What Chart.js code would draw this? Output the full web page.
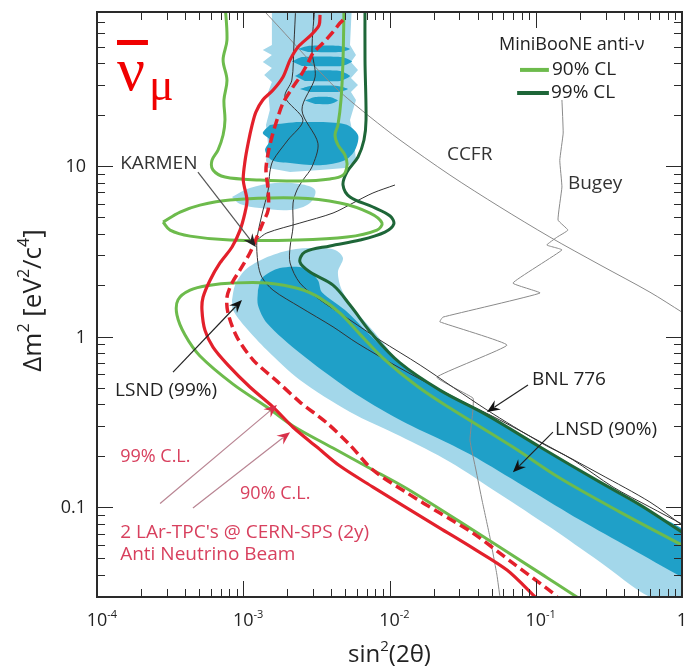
<!DOCTYPE html>
<html>
<head>
<meta charset="utf-8">
<script src="https://cdn.jsdelivr.net/npm/chart.js@4.4.1/dist/chart.umd.min.js"></script>
<style>
  html, body { margin: 0; padding: 0; background: #fff; }
  canvas { display: block; }
</style>
</head>
<body>
<canvas id="chart" width="688" height="671"></canvas>
<script>
// --- axis ranges and tick labels ---
const xRange = [1e-4, 1];
const yRange = [0.0297, 80];
const xDecades = [1e-4, 1e-3, 1e-2, 1e-1, 1];
const xDecadeLabels = [['10', '-4'], ['10', '-3'], ['10', '-2'], ['10', '-1'], ['1', '']];
const yDecades = [10, 1, 0.1];
const yDecadeLabels = ['10', '1', '0.1'];

// --- LSND allowed regions: [sin2(2theta), dm2] ---
const lsndLightBand = [[8.38e-4,1.64],[8.78e-4,2.0],[1.03e-3,2.46],[1.41e-3,2.89],[2.09e-3,3.22],[3.1e-3,3.3],[4.24e-3,3.22],[4.81e-3,2.89],[4.44e-3,2.39],[4.73e-3,1.87],[5.81e-3,1.43],[7.96e-3,1.05],[1.18e-2,0.708],[2.21e-2,0.492],[4.64e-2,0.351],[0.107,0.228],[0.275,0.142],[0.516,0.104],[1.0,0.0718],[1.33,0.0623],[1.33,0.0249],[0.604,0.0297],[0.275,0.0476],[0.125,0.0763],[5.69e-2,0.119],[2.59e-2,0.184],[1.18e-2,0.261],[5.37e-3,0.361],[2.44e-3,0.556],[1.45e-3,0.833],[1.03e-3,1.14],[8.51e-4,1.43],[8.38e-4,1.64]];
const lsndLightStrip = [[1.57e-3,90],[1.57e-3,51.3],[1.36e-3,47.9],[1.57e-3,44.8],[1.36e-3,40.7],[1.57e-3,37.6],[1.39e-3,34.2],[1.57e-3,31.1],[1.48e-3,27.2],[1.52e-3,21.3],[1.43e-3,17.4],[1.48e-3,13.3],[1.43e-3,10.8],[1.48e-3,9.73],[2.09e-3,9.22],[3.35e-3,9.48],[4.96e-3,9.73],[5.9e-3,10.8],[5.72e-3,14.2],[5.37e-3,18.6],[5.9e-3,24.4],[5.45e-3,27.2],[6.09e-3,29.9],[5.45e-3,32.8],[6.09e-3,36.6],[5.45e-3,40.7],[5.9e-3,44.8],[5.37e-3,51.3],[5.54e-3,90],[1.57e-3,90]];
const lsndLightIsland = [[8.38e-4,6.58],[1.11e-3,7.43],[1.65e-3,7.95],[2.44e-3,7.84],[3.1e-3,7.23],[2.86e-3,6.07],[2.09e-3,5.52],[1.3e-3,5.67],[9.51e-4,5.99],[8.38e-4,6.58]];
const lsndDarkBand = [[1.26e-3,1.87],[1.34e-3,2.2],[1.78e-3,2.52],[2.64e-3,2.52],[3.24e-3,2.14],[3.45e-3,1.82],[4.96e-3,1.43],[7.36e-3,1.02],[1.18e-2,0.69],[2.21e-2,0.479],[4.64e-2,0.342],[0.107,0.222],[0.275,0.138],[0.516,0.101],[1.33,0.0615],[1.33,0.0349],[1.0,0.0388],[0.441,0.0575],[0.201,0.0839],[9.14e-2,0.126],[4.16e-2,0.189],[2.59e-2,0.234],[1.18e-2,0.324],[5.37e-3,0.485],[2.44e-3,0.8],[1.45e-3,1.2],[1.26e-3,1.53],[1.26e-3,1.87]];
const lsndDarkStripes = [
  [[2.37e-3,48.6],[2.77e-3,50.6],[4.59e-3,50.6],[5.37e-3,48.6],[4.59e-3,46.6],[2.77e-3,46.6]],
  [[2.15e-3,41.0],[2.52e-3,43.6],[4.73e-3,43.6],[5.54e-3,41.0],[4.73e-3,38.6],[2.52e-3,38.6]],
  [[2.26e-3,33.7],[2.64e-3,36.1],[4.59e-3,36.1],[5.37e-3,33.7],[4.59e-3,31.5],[2.64e-3,31.5]],
  [[2.44e-3,28.3],[2.86e-3,29.5],[4.44e-3,29.5],[5.2e-3,28.3],[4.44e-3,27.2],[2.86e-3,27.2]],
  [[2.64e-3,24.2],[3.1e-3,25.4],[3.92e-3,25.4],[4.44e-3,24.2],[3.92e-3,23.1],[3.1e-3,23.1]]
];
const lsndDarkBlob = [[1.52e-3,17.4],[2.44e-3,18.1],[4.96e-3,17.6],[6.09e-3,15.2],[5.81e-3,12.4],[4.96e-3,10.8],[3.35e-3,10.1],[2.09e-3,10.4],[1.57e-3,10.8],[1.41e-3,12.4],[1.52e-3,14.2],[1.36e-3,15.6],[1.52e-3,17.4]];

// --- other experiments (exclusion curves) ---
const ccfr = [[1.41e-3,80],[1.78e-3,64.5],[2.44e-3,47.9],[3.35e-3,35.6],[4.59e-3,27.2],[7.36e-3,19.4],[1.18e-2,14.2],[2.59e-2,8.85],[5.69e-2,5.75],[0.125,3.83],[0.275,2.63],[0.604,1.82],[1.0,1.39]];
const bugey = [[0.151,24.4],[0.154,15.6],[0.146,10.8],[0.151,7.53],[0.142,4.82],[0.166,4.21],[0.14,3.83],[0.119,3.44],[0.151,3.22],[6.98e-2,2.06],[0.107,1.8],[2.32e-2,1.3],[2.21e-2,1.22],[6.36e-2,0.891],[2.11e-2,0.578],[3.72e-2,0.436],[3.72e-2,0.371],[3.55e-2,0.247],[3.9e-2,0.165],[4.29e-2,0.11],[4.86e-2,0.0667],[5.43e-2,0.0399],[5.69e-2,0.0297]];
const karmen = [[2.29e-3,90],[2.22e-3,51.3],[2.15e-3,31.9],[1.93e-3,25.4],[2.56e-3,18.6],[2.02e-3,14.2],[1.6e-3,10.8],[1.52e-3,9.22],[1.48e-3,7.23],[1.34e-3,5.16],[1.24e-3,3.68],[1.26e-3,2.7],[1.34e-3,2.23],[1.6e-3,1.87],[2.44e-3,1.49],[4.11e-3,1.14],[6.0e-3,0.916],[1.18e-2,0.653],[2.59e-2,0.454],[5.69e-2,0.324],[0.125,0.225],[0.275,0.156],[0.604,0.107],[1.0,0.0784]];
const karmenBranch = [[1.24e-3,3.68],[1.45e-3,4.05],[2.44e-3,4.63],[4.11e-3,5.3],[5.63e-3,6.07],[7.71e-3,6.95],[1.09e-2,7.74]];
const bnl776 = [[3.1e-3,90],[2.95e-3,47.9],[3.1e-3,33.3],[2.52e-3,21.3],[3.24e-3,13.6],[2.95e-3,9.87],[2.56e-3,8.28],[2.33e-3,7.23],[2.19e-3,6.07],[2.19e-3,4.39],[2.09e-3,3.35],[2.09e-3,2.7],[2.44e-3,2.06],[3.35e-3,1.64],[5.37e-3,1.25],[8.61e-3,0.953],[1.62e-2,0.68],[4.64e-2,0.371],[0.107,0.24],[0.18,0.189],[0.338,0.131],[0.604,0.1],[1.0,0.0795]];

// --- MiniBooNE anti-nu contours ---
const miniboone90Top = [[7.5e-4,90],[7.74e-4,54.8],[7.28e-4,41.9],[7.74e-4,31.9],[7.38e-4,24.4],[7.5e-4,18.6],[7.28e-4,15.2],[6.72e-4,12.4],[6.11e-4,10.8],[6.21e-4,9.48],[7.5e-4,8.62],[1.3e-3,8.28],[2.44e-3,8.17],[3.92e-3,8.4],[4.81e-3,8.85],[5.12e-3,10.1],[4.96e-3,11.6],[4.44e-3,13.3],[4.24e-3,15.2],[4.44e-3,17.4],[4.66e-3,24.4],[4.81e-3,41.9],[4.89e-3,90]];
const miniboone90Lens = [[2.83e-4,4.69],[3.7e-4,5.37],[5.06e-4,5.9],[8.11e-4,6.32],[2.33e-3,6.49],[4.59e-3,6.07],[7.36e-3,5.3],[8.89e-3,4.63],[8.21e-3,4.21],[5.12e-3,3.83],[2.33e-3,3.68],[8.11e-4,3.68],[4.33e-4,3.88],[3.16e-4,4.21],[2.83e-4,4.69]];
const miniboone90Main = [[1.0,0.0599],[0.377,0.0935],[0.146,0.148],[6.98e-2,0.225],[2.59e-2,0.381],[1.54e-2,0.513],[9.02e-3,0.748],[6.29e-3,1.03],[4.59e-3,1.37],[3.35e-3,1.68],[2.44e-3,1.9],[1.45e-3,2.06],[8.51e-4,2.06],[5.93e-4,2.0],[4.33e-4,1.87],[3.58e-4,1.64],[3.52e-4,1.34],[4.0e-4,1.02],[5.06e-4,0.769],[8.51e-4,0.526],[1.45e-3,0.386],[2.19e-3,0.299],[4.11e-3,0.222],[7.71e-3,0.165],[1.32e-2,0.128],[3.72e-2,0.0733],[0.107,0.041],[0.191,0.0297],[0.217,0.0274]];
const miniboone99 = [[6.8e-3,90],[6.8e-3,41.9],[6.91e-3,18.6],[6.69e-3,14.2],[6.09e-3,11.3],[5.12e-3,9.22],[4.81e-3,7.74],[5.37e-3,6.58],[7.71e-3,5.75],[1.01e-2,5.09],[1.07e-2,4.57],[9.31e-3,4.1],[6.29e-3,3.68],[3.92e-3,3.4],[2.64e-3,3.13],[2.44e-3,2.74],[2.86e-3,2.39],[4.11e-3,2.0],[5.37e-3,1.53],[7.71e-3,1.02],[1.18e-2,0.7],[2.21e-2,0.485],[4.64e-2,0.346],[0.107,0.225],[0.275,0.14],[0.516,0.103],[1.0,0.0713]];

// --- 2 LAr-TPC sensitivity (anti-neutrino beam, 2y) ---
const lar90 = [[3.35e-3,77],[3.3e-3,67],[2.95e-3,59.4],[2.37e-3,49.9],[2.09e-3,41.9],[1.87e-3,33.3],[1.6e-3,27.9],[1.36e-3,24.4],[1.22e-3,20.7],[1.15e-3,17.4],[1.08e-3,13.6],[1.03e-3,10.8],[1.0e-3,8.28],[1.06e-3,6.32],[1.03e-3,5.37],[9.51e-4,4.21],[8.38e-4,3.35],[6.93e-4,2.7],[5.93e-4,2.14],[5.31e-4,1.7],[5.22e-4,1.43],[5.47e-4,1.09],[6.21e-4,0.867],[7.87e-4,0.68],[1.11e-3,0.506],[1.6e-3,0.386],[2.19e-3,0.294],[3.19e-3,0.225],[4.59e-3,0.174],[7.71e-3,0.131],[1.32e-2,0.0987],[2.21e-2,0.0753],[3.72e-2,0.0574],[6.36e-2,0.0427],[0.099,0.0297],[0.105,0.028]];
const lar99 = [[4.81e-3,71.8],[4.59e-3,69],[4.11e-3,61.1],[3.51e-3,52.6],[3.0e-3,46],[2.77e-3,40.2],[2.44e-3,33.3],[2.19e-3,29.1],[1.87e-3,23.4],[1.7e-3,18.6],[1.57e-3,14.8],[1.48e-3,11.9],[1.43e-3,9.48],[1.48e-3,7.23],[1.48e-3,5.52],[1.36e-3,4.63],[1.24e-3,3.83],[1.11e-3,3.09],[9.51e-4,2.46],[8.38e-4,2.06],[7.74e-4,1.7],[7.87e-4,1.37],[9.06e-4,0.993],[1.17e-3,0.728],[1.7e-3,0.548],[2.44e-3,0.413],[3.74e-3,0.311],[5.37e-3,0.231],[7.71e-3,0.165],[1.32e-2,0.121],[2.21e-2,0.0922],[3.72e-2,0.0704],[6.98e-2,0.0469],[0.131,0.0313],[0.146,0.0285]];

const LIGHT_BLUE = '#a3d7ea';
const DARK_BLUE = '#1fa0c8';
const GREEN = '#6dbb4c';
const DARK_GREEN = '#1e6638';
const RED = '#e3202b';
const PINK = '#d8405e';
const FONT = '"Open Sans", "DejaVu Sans", sans-serif';

const pts = arr => arr.map(([x, y]) => ({x, y}));

function area(data, color, tension) {
  return { data: pts(data), fill: 'shape', backgroundColor: color, borderWidth: 0, borderColor: 'rgba(0,0,0,0)', tension: tension };
}
function curve(data, color, width, tension, dash) {
  return { data: pts(data), fill: false, borderColor: color, borderWidth: width, tension: tension, borderDash: dash || [] };
}

const layers = [
  area(lsndLightBand, LIGHT_BLUE, 0.3),
  area(lsndLightStrip, LIGHT_BLUE, 0),
  area(lsndLightIsland, LIGHT_BLUE, 0.35),
  area(lsndDarkBand, DARK_BLUE, 0.3),
  ...lsndDarkStripes.map(s => area(s, DARK_BLUE, 0.2)),
  area(lsndDarkBlob, DARK_BLUE, 0.3),
  curve(ccfr, '#8a8a8a', 1, 0.3),
  curve(bugey, '#8a8a8a', 1, 0.1),
  curve(bnl776, '#333', 1, 0.3),
  curve(karmen, '#333', 1, 0.3),
  curve(karmenBranch, '#333', 1, 0.3),
  curve(miniboone99, DARK_GREEN, 3, 0.35),
  curve(miniboone90Top, GREEN, 3, 0.35),
  curve(miniboone90Lens, GREEN, 3, 0.35),
  curve(miniboone90Main, GREEN, 3, 0.35),
  curve(lar99, RED, 3.5, 0.3, [10, 5]),
  curve(lar90, RED, 3.2, 0.3)
];
layers.forEach((d, i) => { d.order = layers.length - i; });

// annotation texts, arrows and legend placed in data coordinates
const notes = [
  {text: 'KARMEN', at: [1.44e-4, 10.4], color: '#333', size: 19},
  {text: 'CCFR', at: [2.47e-2, 11.6], color: '#333', size: 19},
  {text: 'Bugey', at: [0.166, 7.84], color: '#333', size: 19},
  {text: 'LSND (99%)', at: [1.33e-4, 0.485], color: '#222', size: 19},
  {text: 'BNL 776', at: [9.42e-2, 0.556], color: '#222', size: 19},
  {text: 'LNSD (90%)', at: [0.1355, 0.283], color: '#222', size: 19},
  {text: '99% C.L.', at: [1.44e-4, 0.196], color: PINK, size: 18},
  {text: '90% C.L.', at: [9.51e-4, 0.119], color: PINK, size: 18},
  {text: "2 LAr-TPC's @ CERN-SPS (2y)", at: [1.44e-4, 0.0704], color: PINK, size: 19},
  {text: 'Anti Neutrino Beam', at: [1.44e-4, 0.053], color: PINK, size: 19},
  {text: 'MiniBooNE anti-\u03bd', at: [5.61e-2, 51.3], color: '#222', size: 18},
  {text: '90% CL', at: [0.129, 36.6], color: '#222', size: 19},
  {text: '99% CL', at: [0.127, 26.8], color: '#222', size: 19}
];
const arrows = [
  {from: [4.9e-4, 9.22], to: [1.22e-3, 3.35], line: '#555', head: '#222'},
  {from: [3.31e-4, 0.619], to: [9.8e-4, 1.64], line: '#222', head: '#111'},
  {from: [8.85e-2, 0.52], to: [4.64e-2, 0.361], line: '#222', head: '#111'},
  {from: [0.131, 0.275], to: [6.98e-2, 0.16], line: '#222', head: '#111'},
  {from: [2.7e-4, 0.105], to: [1.7e-3, 0.397], line: '#b98593', head: '#d8304a'},
  {from: [4.53e-4, 0.0987], to: [2.09e-3, 0.275], line: '#b98593', head: '#d8304a'}
];
const legendLines = [
  {from: [7.8e-2, 36.6], to: [0.123, 36.6], color: GREEN},
  {from: [7.46e-2, 26.8], to: [0.123, 26.8], color: DARK_GREEN}
];

function drawParts(ctx, parts, x, y, size, align) {
  const small = Math.round(size * 0.62);
  const widths = parts.map(([t, sup]) => {
    ctx.font = (sup ? small : size) + 'px ' + FONT;
    return ctx.measureText(t).width;
  });
  const total = widths.reduce((a, b) => a + b, 0);
  let cx = align === 'center' ? x - total / 2 : (align === 'right' ? x - total : x);
  ctx.textAlign = 'left';
  ctx.textBaseline = 'middle';
  parts.forEach(([t, sup], i) => {
    ctx.font = (sup ? small : size) + 'px ' + FONT;
    ctx.fillText(t, cx, sup ? y - size * 0.36 : y);
    cx += widths[i];
  });
}

function drawArrow(ctx, x1, y1, x2, y2, lineColor, headColor) {
  const a = Math.atan2(y2 - y1, x2 - x1);
  const hl = 13, hw = 5.5;
  ctx.strokeStyle = lineColor;
  ctx.lineWidth = 1.2;
  ctx.beginPath();
  ctx.moveTo(x1, y1);
  ctx.lineTo(x2 - hl * 0.7 * Math.cos(a), y2 - hl * 0.7 * Math.sin(a));
  ctx.stroke();
  ctx.fillStyle = headColor;
  ctx.beginPath();
  ctx.moveTo(x2, y2);
  ctx.lineTo(x2 - hl * Math.cos(a) + hw * Math.sin(a), y2 - hl * Math.sin(a) - hw * Math.cos(a));
  ctx.lineTo(x2 - hl * 0.65 * Math.cos(a), y2 - hl * 0.65 * Math.sin(a));
  ctx.lineTo(x2 - hl * Math.cos(a) - hw * Math.sin(a), y2 - hl * Math.sin(a) + hw * Math.cos(a));
  ctx.closePath();
  ctx.fill();
}

function minorValues(min, max) {
  const out = [];
  for (let e = Math.floor(Math.log10(min)); e <= Math.ceil(Math.log10(max)); e++) {
    for (let k = 1; k <= 9; k++) {
      const v = k * Math.pow(10, e);
      if (v >= min * 0.999 && v <= max * 1.001) out.push({v, major: k === 1});
    }
  }
  return out;
}

const framePlugin = {
  id: 'frame',
  afterDatasetsDraw(chart) {
    const {ctx, chartArea: a, scales: {x, y}} = chart;
    ctx.save();
    ctx.strokeStyle = '#2a2a2a';
    ctx.lineWidth = 1;
    ctx.beginPath();
    minorValues(x.min, x.max).forEach(t => {
      const p = Math.round(x.getPixelForValue(t.v)) + 0.5;
      const len = t.major ? 16 : 8;
      ctx.moveTo(p, a.bottom); ctx.lineTo(p, a.bottom - len);
      ctx.moveTo(p, a.top); ctx.lineTo(p, a.top + len);
    });
    minorValues(y.min, y.max).forEach(t => {
      const p = Math.round(y.getPixelForValue(t.v)) + 0.5;
      const len = t.major ? 16 : 8;
      ctx.moveTo(a.left, p); ctx.lineTo(a.left + len, p);
      ctx.moveTo(a.right, p); ctx.lineTo(a.right - len, p);
    });
    ctx.stroke();
    ctx.lineWidth = 2;
    ctx.strokeRect(a.left, a.top, a.right - a.left, a.bottom - a.top);

    ctx.fillStyle = '#222';
    xDecades.forEach((v, i) => {
      const p = x.getPixelForValue(v);
      const [base, sup] = xDecadeLabels[i];
      ctx.font = '18px ' + FONT;
      const w = ctx.measureText(base).width;
      drawParts(ctx, [[base, false], [sup, true]], p - w / 2, a.bottom + 24, 18, 'left');
    });
    yDecades.forEach((v, i) => {
      drawParts(ctx, [[yDecadeLabels[i], false]], a.left - 11, y.getPixelForValue(v) + 1, 18, 'right');
    });
    drawParts(ctx, [['sin', false], ['2', true], ['(2\u03b8)', false]], (a.left + a.right) / 2, a.bottom + 58, 24, 'center');
    ctx.save();
    ctx.translate(a.left - 63, (a.top + a.bottom) / 2 - 4);
    ctx.rotate(-Math.PI / 2);
    drawParts(ctx, [['\u0394m', false], ['2', true], [' [eV', false], ['2', true], ['/c', false], ['4', true], [']', false]], 0, 0, 26, 'center');
    ctx.restore();
    ctx.restore();
  }
};

const notesPlugin = {
  id: 'notes',
  afterDatasetsDraw(chart) {
    const {ctx, scales: {x, y}} = chart;
    const P = ([vx, vy]) => [x.getPixelForValue(vx), y.getPixelForValue(vy)];
    ctx.save();
    arrows.forEach(ar => {
      const [x1, y1] = P(ar.from), [x2, y2] = P(ar.to);
      drawArrow(ctx, x1, y1, x2, y2, ar.line, ar.head);
    });
    legendLines.forEach(l => {
      const [x1, y1] = P(l.from), [x2] = P(l.to);
      ctx.strokeStyle = l.color;
      ctx.lineWidth = 4;
      ctx.beginPath(); ctx.moveTo(x1, y1); ctx.lineTo(x2, y1); ctx.stroke();
    });
    notes.forEach(n => {
      const [px, py] = P(n.at);
      ctx.fillStyle = n.color;
      drawParts(ctx, [[n.text, false]], px, py, n.size, 'left');
    });
    // anti-nu_mu symbol
    ctx.fillStyle = '#f00000';
    ctx.textAlign = 'left';
    ctx.textBaseline = 'alphabetic';
    const [nx, ny] = P([1.37e-4, 27.9]);
    ctx.font = '62px "Liberation Serif", serif';
    ctx.fillText('\u03bd', nx, ny);
    const [bx1, by] = P([1.37e-4, 53.0]), [bx2] = P([2.23e-4, 53.0]);
    ctx.fillRect(bx1, by - 2.5, bx2 - bx1, 5);
    const [mx, my] = P([2.27e-4, 24.4]);
    ctx.font = '46px "Liberation Serif", serif';
    ctx.fillText('\u03bc', mx, my);
    ctx.restore();
  }
};

new Chart(document.getElementById('chart'), {
  type: 'line',
  data: { datasets: layers },
  options: {
    responsive: false,
    animation: false,
    devicePixelRatio: 1,
    layout: { padding: { left: 97, top: 12, right: 6, bottom: 74 } },
    elements: { point: { radius: 0 }, line: { borderJoinStyle: 'round', capBezierPoints: false } },
    scales: {
      x: { type: 'logarithmic', min: xRange[0], max: xRange[1], display: false },
      y: { type: 'logarithmic', min: yRange[0], max: yRange[1], display: false }
    },
    plugins: { legend: { display: false }, tooltip: { enabled: false } }
  },
  plugins: [framePlugin, notesPlugin]
});
</script>
</body>
</html>
